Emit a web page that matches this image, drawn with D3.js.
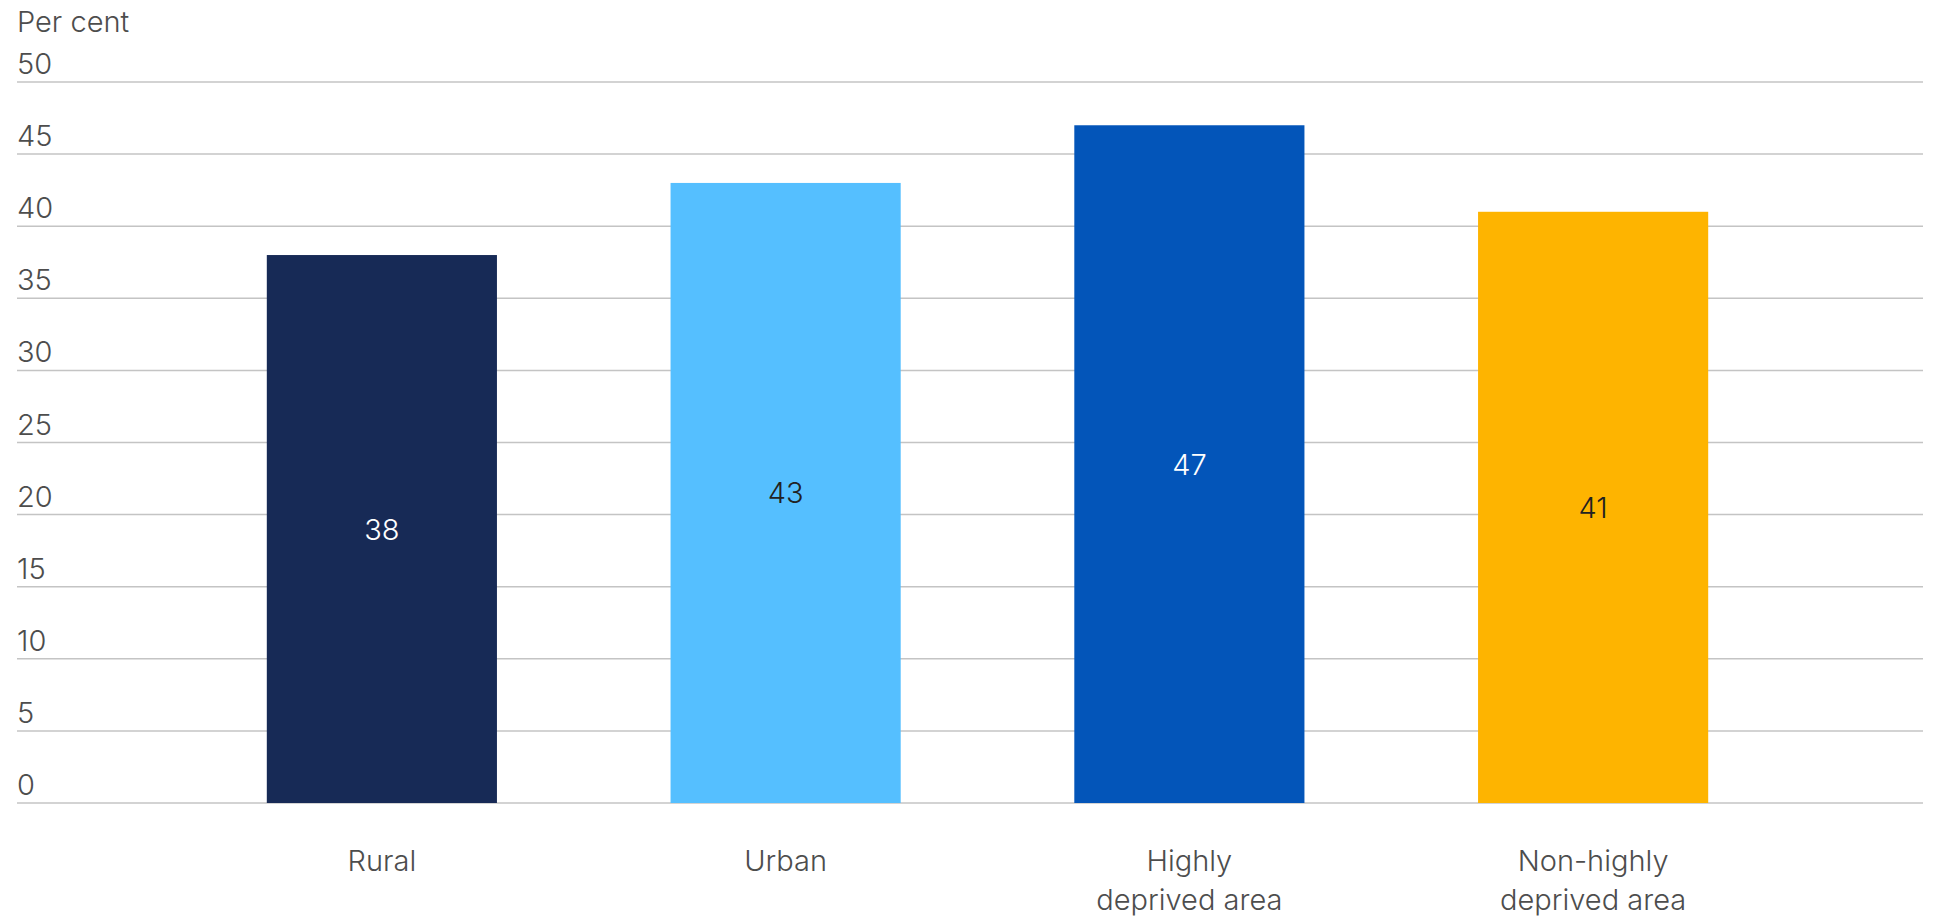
<!DOCTYPE html>
<html>
<head>
<meta charset="utf-8">
<script src="https://cdn.jsdelivr.net/npm/d3@7"></script>
<style>
  html, body { margin: 0; padding: 0; background: #ffffff; }
  svg { display: block; }
  text { font-family: Inter, "Noto Sans", sans-serif; font-weight: 300; }
</style>
</head>
<body>
<svg id="chart" width="1937" height="917"></svg>
<script>
// Share of respondents, by area type (per cent)
const categories = [["Rural"], ["Urban"], ["Highly", "deprived area"], ["Non-highly", "deprived area"]];
const values = [38, 43, 47, 41];
const barColors = ["#172a56", "#55bfff", "#0355b9", "#feb400"];
const labelColors = ["#ffffff", "#222222", "#ffffff", "#222222"];
const yTicks = [0, 5, 10, 15, 20, 25, 30, 35, 40, 45, 50];
const yTitle = "Per cent";

const svg = d3.select("#chart");
const W = 1937;
const gridLeft = 17, gridRight = 1923;
const yTop = 82, yBottom = 803;

const x = d3.scaleBand()
  .domain(d3.range(values.length))
  .range([180, 1795])
  .paddingInner(0.43)
  .paddingOuter(0.215);

const y = d3.scaleLinear().domain([0, 50]).range([yBottom, yTop]);

// Horizontal gridlines with tick labels sitting above each line
const grid = svg.append("g");
grid.selectAll("line")
  .data(yTicks)
  .join("line")
  .attr("x1", gridLeft)
  .attr("x2", gridRight)
  .attr("y1", d => y(d))
  .attr("y2", d => y(d))
  .attr("stroke", "#c4c4c4")
  .attr("stroke-width", 1.5);

grid.selectAll("text")
  .data(yTicks)
  .join("text")
  .attr("x", gridLeft)
  .attr("y", d => y(d) - 8)
  .attr("font-size", 29)
  .attr("fill", "#4d4d4d")
  .text(d => d);

svg.append("text")
  .attr("x", gridLeft)
  .attr("y", 32)
  .attr("font-size", 29)
  .attr("fill", "#4d4d4d")
  .text(yTitle);

// Bars
svg.append("g")
  .selectAll("rect")
  .data(values)
  .join("rect")
  .attr("x", (d, i) => x(i))
  .attr("width", x.bandwidth())
  .attr("y", d => y(d))
  .attr("height", d => y(0) - y(d))
  .attr("fill", (d, i) => barColors[i]);

// Value labels centred inside each bar
svg.append("g")
  .selectAll("text")
  .data(values)
  .join("text")
  .attr("x", (d, i) => x(i) + x.bandwidth() / 2)
  .attr("y", d => (y(d) + y(0)) / 2)
  .attr("text-anchor", "middle")
  .attr("dominant-baseline", "central")
  .attr("font-size", 29)
  .attr("fill", (d, i) => labelColors[i])
  .text(d => d);

// Category labels under the axis
const cat = svg.append("g")
  .selectAll("text")
  .data(categories)
  .join("text")
  .attr("x", (d, i) => x(i) + x.bandwidth() / 2)
  .attr("y", 871)
  .attr("text-anchor", "middle")
  .attr("font-size", 29)
  .attr("fill", "#4d4d4d");

cat.selectAll("tspan")
  .data(d => d)
  .join("tspan")
  .attr("x", function() { return d3.select(this.parentNode).attr("x"); })
  .attr("dy", (d, i) => i === 0 ? 0 : 39)
  .text(d => d);
</script>
</body>
</html>
